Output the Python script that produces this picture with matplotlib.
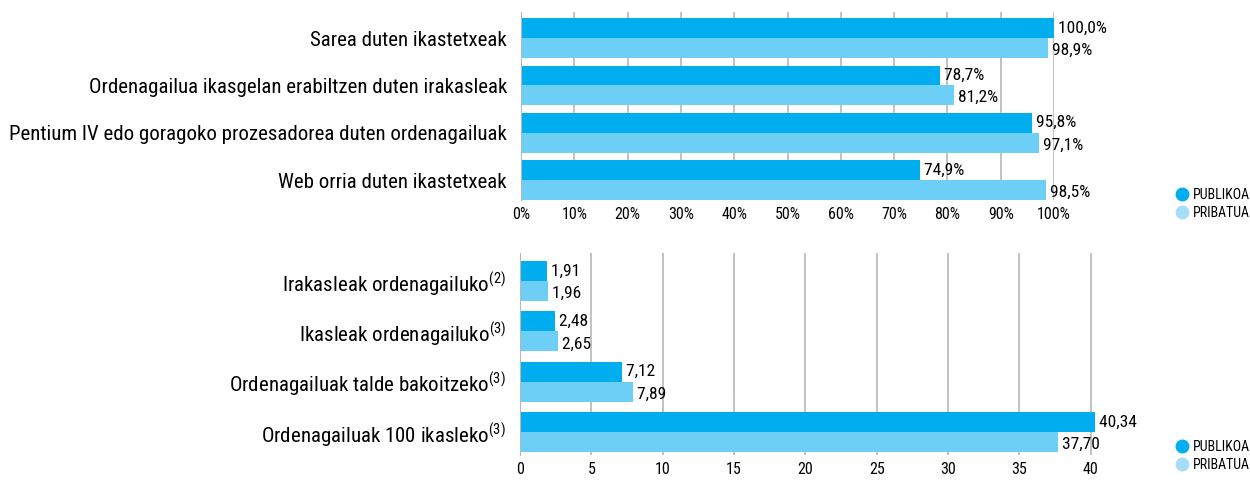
import matplotlib.pyplot as plt
from matplotlib.lines import Line2D
from matplotlib import font_manager

# fuente estrecha (condensada) si existe
names = {f.name for f in font_manager.fontManager.ttflist}
narrow = 'DejaVu Sans'
for cand in ['Roboto Condensed', 'Fira Sans Condensed', 'PT Sans Narrow', 'Archivo Narrow']:
    if cand in names:
        narrow = cand
        break
plt.rcParams['font.family'] = [narrow, 'DejaVu Sans']
plt.rcParams['mathtext.default'] = 'regular'

# datos
cats_top = ["Sarea duten ikastetxeak",
            "Ordenagailua ikasgelan erabiltzen duten irakasleak",
            "Pentium IV edo goragoko prozesadorea duten ordenagailuak",
            "Web orria duten ikastetxeak"]
pub_top = [100.0, 78.7, 95.8, 74.9]
pri_top = [98.9, 81.2, 97.1, 98.5]

cats_bot = ["Irakasleak ordenagailuko$^{(2)}$",
            "Ikasleak ordenagailuko$^{(3)}$",
            "Ordenagailuak talde bakoitzeko$^{(3)}$",
            "Ordenagailuak 100 ikasleko$^{(3)}$"]
pub_bot = [1.91, 2.48, 7.12, 40.34]
pri_bot = [1.96, 2.65, 7.89, 37.70]

c_pub = '#00AEEF'
c_pri = '#6DCFF6'
c_grid = '#b5b8bb'

fig = plt.figure(figsize=(12.5, 4.82), dpi=100)

def dibujar(ax, cats, pub, pri, fmt, h):
    y = list(range(len(cats)))
    ax.barh([v - h / 2 for v in y], pub, height=h, color=c_pub, zorder=2)
    ax.barh([v + h / 2 for v in y], pri, height=h, color=c_pri, zorder=2)
    for i in y:
        ax.text(pub[i], i - h / 2, " " + fmt(pub[i]), va='center', ha='left',
                fontsize=12.5, clip_on=False)
        ax.text(pri[i], i + h / 2 + 0.05, " " + fmt(pri[i]), va='center', ha='left',
                fontsize=12.5, clip_on=False)
    ax.set_yticks(y)
    ax.set_yticklabels(cats, fontsize=15)
    ax.tick_params(axis='y', length=0, pad=10)
    ax.tick_params(axis='x', length=0, labelsize=11.5, pad=5)
    for s in ['top', 'right', 'bottom']:
        ax.spines[s].set_visible(False)
    ax.spines['left'].set_color(c_grid)
    ax.grid(axis='x', color=c_grid, linewidth=1.2, zorder=0)
    ax.set_axisbelow(True)

# grafico de arriba (porcentajes)
ax1 = fig.add_axes([521 / 1250, 1 - 200 / 482, 533 / 1250, 188 / 482])
dibujar(ax1, cats_top, pub_top, pri_top,
        lambda v: f"{v:.1f}%".replace('.', ','), 0.42)
ax1.set_xlim(0, 100)
ax1.set_ylim(3.42, -0.55)
ax1.set_xticks(range(0, 101, 10))
ax1.set_xticklabels([f"{t}%" for t in range(0, 101, 10)])

# grafico de abajo (ratios)
ax2 = fig.add_axes([520 / 1250, 1 - 455 / 482, 592 / 1250, 202 / 482])
dibujar(ax2, cats_bot, pub_bot, pri_bot,
        lambda v: f"{v:.2f}".replace('.', ','), 0.4)
ax2.set_xlim(0, 41.5)
ax2.set_ylim(3.46, -0.56)
ax2.set_xticks(range(0, 41, 5))

# leyendas
handles = [Line2D([], [], marker='o', ls='', color=c_pub, markersize=9),
           Line2D([], [], marker='o', ls='', color='#A8DDF8', markersize=9)]
for ytop in [188, 440]:
    fig.legend(handles, ['PUBLIKOA', 'PRIBATUA'], loc='upper left',
               bbox_to_anchor=(1176 / 1250, 1 - ytop / 482), frameon=False,
               fontsize=10, handletextpad=0.3, labelspacing=0.3,
               borderpad=0, borderaxespad=0, handlelength=0.9)

fig.savefig('out.png', dpi=100)
